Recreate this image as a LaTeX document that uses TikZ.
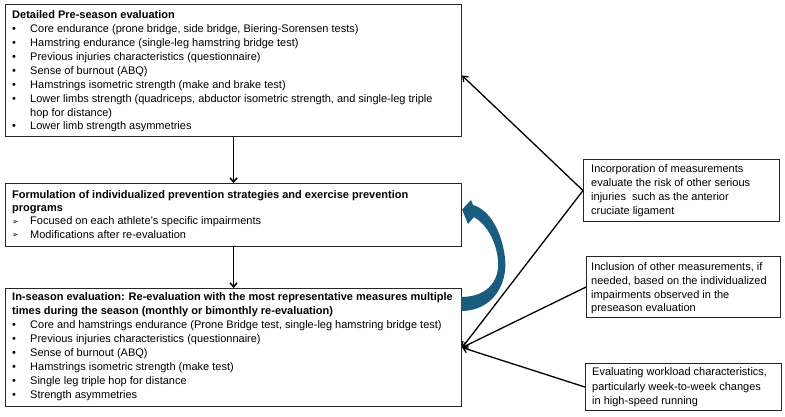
\documentclass[tikz,border=0pt]{standalone}
\usepackage{fontspec}
\setmainfont{Liberation Sans}
\newfontfamily\djv{DejaVu Sans}
\usetikzlibrary{arrows.meta,calc}
\definecolor{boxline}{HTML}{262626}
\definecolor{curvblue}{HTML}{1A5C7E}
\newcommand\bl[1]{\makebox[18pt][l]{\textbullet}#1}
\newcommand\ah[1]{\makebox[18pt][l]{\raisebox{0.3pt}{\djv\fontsize{8}{8}\selectfont ➢}}#1}
\newcommand\fs{\rule{0pt}{8pt}}
\tikzset{
  box/.style={draw=boxline, line width=1.1pt, rectangle, inner sep=0pt, anchor=north west},
  txt/.style={anchor=north west, inner sep=0pt, align=left},
  conn/.style={draw=black, line width=1.5pt, -{Straight Barb[length=4pt,width=7pt]}},
  diag/.style={draw=black, line width=1.3pt, -{Straight Barb[length=4.5pt,width=7pt]}}
}
\begin{document}
\begin{tikzpicture}[x=1pt,y=-1pt]
\useasboundingbox (0,0) rectangle (785,416);
% boxes
\node[box, minimum width=456pt, minimum height=132pt] (pre) at (5,4) {};
\node[box, minimum width=456pt, minimum height=63pt] (form) at (5,183) {};
\node[box, minimum width=456pt, minimum height=118pt] (ins) at (5,288) {};
\node[box, minimum width=196pt, minimum height=62pt] (ba) at (583,159) {};
\node[box, minimum width=194pt, minimum height=61pt] (bb) at (586,256) {};
\node[box, minimum width=196pt, minimum height=47pt] (bc) at (585,363) {};
% texts
\node[txt, font=\fontsize{11}{13.9}\selectfont] (pret) at (12,10.5) {%
\fs\textbf{Detailed Pre-season evaluation}\\
\bl{Core endurance (prone bridge, side bridge, Biering-Sorensen tests)}\\
\bl{Hamstring endurance (single-leg hamstring bridge test)}\\
\bl{Previous injuries characteristics (questionnaire)}\\
\bl{Sense of burnout (ABQ)}\\
\bl{Hamstrings isometric strength (make and brake test)}\\
\bl{Lower limbs strength (quadriceps, abductor isometric strength, and single-leg triple}\\
\hspace*{18pt}hop for distance)\\
\bl{Lower limb strength asymmetries}};
\node[txt, font=\fontsize{11}{13.1}\selectfont] (formt) at (12,190.5) {%
\fs\textbf{Formulation of individualized prevention strategies and exercise prevention}\\
\textbf{programs}\\
\ah{Focused on each athlete’s specific impairments}\\
\ah{Modifications after re-evaluation}};
\node[txt, font=\fontsize{11}{14}\selectfont] (inst) at (12,292.5) {%
\fs\textbf{In-season evaluation: Re-evaluation with the most representative measures multiple}\\
\textbf{times during the season (monthly or bimonthly re-evaluation)}\\
\bl{Core and hamstrings endurance (Prone Bridge test, single-leg hamstring bridge test)}\\
\bl{Previous injuries characteristics (questionnaire)}\\
\bl{Sense of burnout (ABQ)}\\
\bl{Hamstrings isometric strength (make test)}\\
\bl{Single leg triple hop for distance}\\
\bl{Strength asymmetries}};
\node[txt, font=\fontsize{11}{14}\selectfont] (bat) at (591,164.5) {%
\fs Incorporation of measurements\\
evaluate the risk of other serious\\
injuries\ \ such as the anterior\\
cruciate ligament};
\node[txt, font=\fontsize{11}{13.7}\selectfont] (bbt) at (591,262.5) {%
\fs Inclusion of other measurements, if\\
needed, based on the individualized\\
impairments observed in the\\
preseason evaluation};
\node[txt, font=\fontsize{11}{14.5}\selectfont] (bct) at (592,367.5) {%
\fs Evaluating workload characteristics,\\
particularly week-to-week changes\\
in high-speed running};
% connectors
\coordinate (preR) at ([yshift=-5pt]pre.east);
\draw[conn] (pre.south) -- (form.north);
\draw[conn] (form.south) -- (ins.north);
\draw[diag] (ba.west) -- (preR);
\draw[diag] (ba.west) -- (ins.east);
\draw[diag] (bb.west) -- (ins.east);
\draw[diag] (bc.west) -- (ins.east);
% curved block arrow
\coordinate (ctip) at ([yshift=5.5pt]form.east);
\fill[curvblue] (461,311) .. controls (492,311) and (508,285) .. (505,258)
  .. controls (502,232) and (490,210) .. (473,205)
  -- (471,200) -- (ctip) -- (468,224) -- (474,217)
  .. controls (486,224) and (496,240) .. (498,260)
  .. controls (500,283) and (485,297) .. (461,297) -- cycle;
\end{tikzpicture}
\end{document}
